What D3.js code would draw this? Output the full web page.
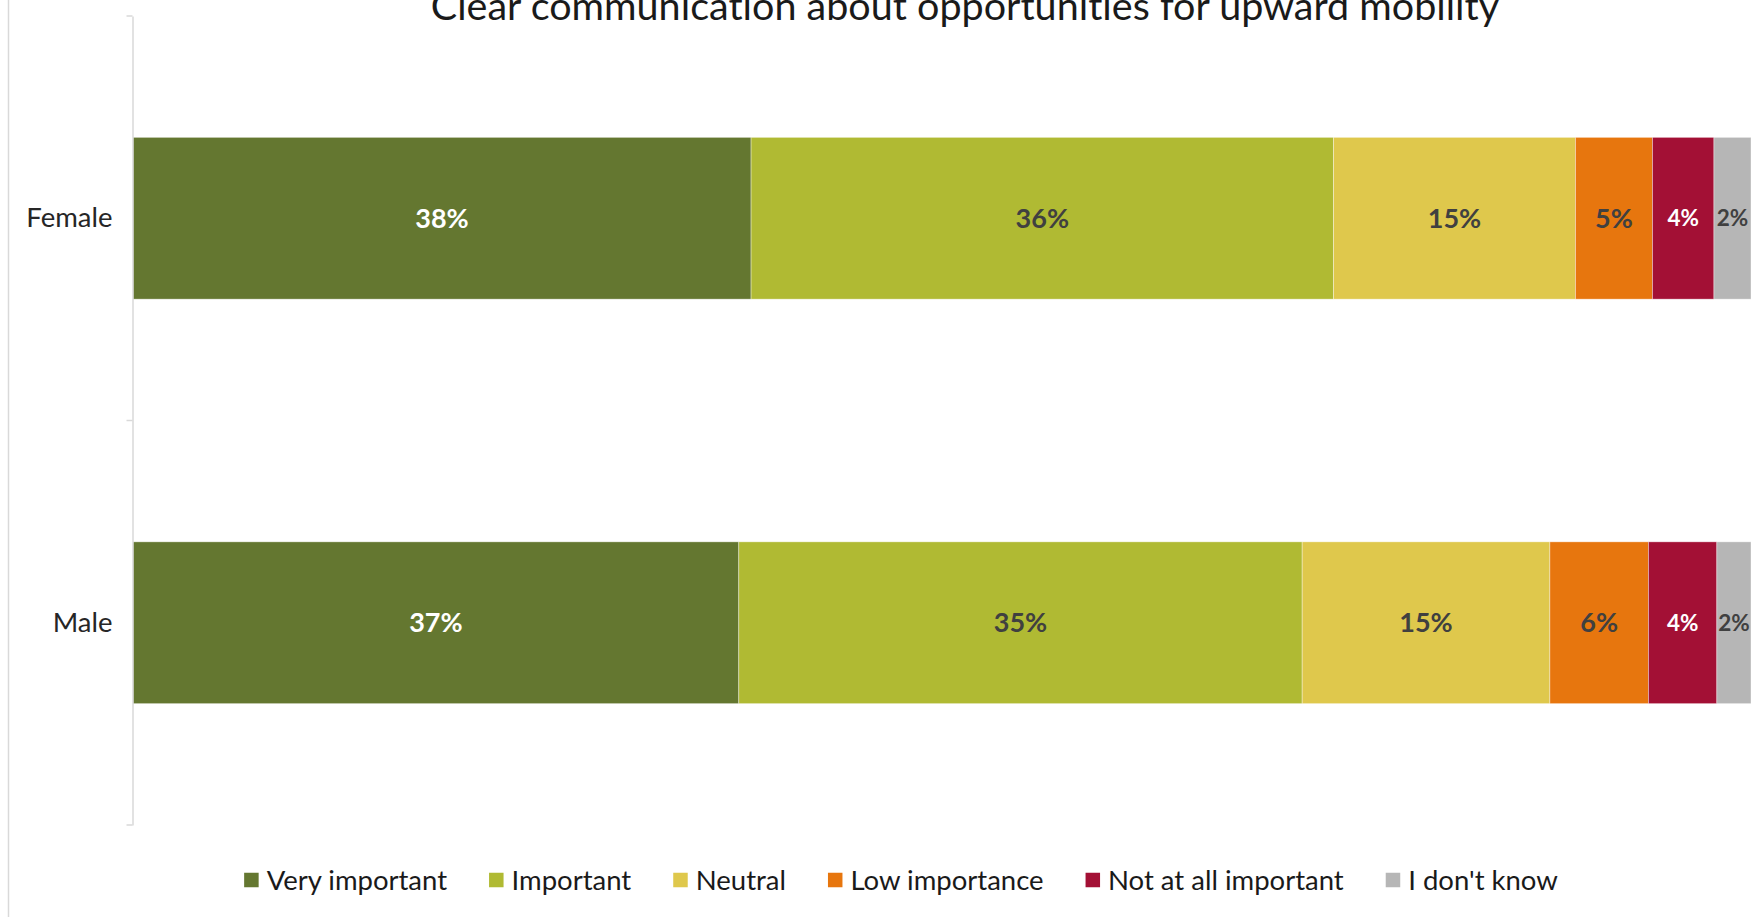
<!DOCTYPE html>
<html><head><meta charset="utf-8">
<script src="https://cdn.jsdelivr.net/npm/d3@7"></script>
<style>html,body{margin:0;padding:0;background:#fff;overflow:hidden} text{font-variant-ligatures:none;font-feature-settings:"liga" 0}</style>
</head><body>
<svg id="chart" width="1763" height="917"></svg>
<script>
const title = "Clear communication about opportunities for upward mobility";
const categories = ["Female", "Male"];
const seriesNames = ["Very important", "Important", "Neutral", "Low importance", "Not at all important", "I don't know"];
const seriesColors = ["#647730", "#B0BA33", "#DFC84C", "#E7760E", "#A31035", "#B6B6B6"];
const labelColors = ["#ffffff", "#404040", "#404040", "#404040", "#ffffff", "#404040"];
const femaleValues = [38.2, 36.0, 14.95, 4.76, 3.80, 2.29];
const maleValues = [37.44, 34.82, 15.31, 6.09, 4.23, 2.11];
const femaleLabels = ["38%", "36%", "15%", "5%", "4%", "2%"];
const maleLabels = ["37%", "35%", "15%", "6%", "4%", "2%"];

const values = [femaleValues, maleValues];
const labels = [femaleLabels, maleLabels];
const svg = d3.select("#chart");
const FONT = "Lato, 'Open Sans', sans-serif";

const x = d3.scaleLinear().domain([0, 100]).range([133, 1751]);
const y = d3.scaleBand().domain(categories).range([16, 825]).paddingInner(0.6).paddingOuter(0.3);

// outer border line
svg.append("line").attr("x1", 8.5).attr("x2", 8.5).attr("y1", 0).attr("y2", 917)
  .attr("stroke", "#d9d9d9").attr("stroke-width", 1.5);

// title
svg.append("text").attr("x", 965).attr("y", 20).attr("text-anchor", "middle")
  .attr("font-family", FONT).attr("font-size", 39.5).attr("fill", "#1a1a1a").text(title);

// stacked data
const rows = categories.map((c, i) => {
  let acc = 0;
  return values[i].map((v, j) => {
    const d = {cat: c, j, x0: acc, x1: acc + v, label: labels[i][j]};
    acc += v;
    return d;
  });
});

const g = svg.append("g");
rows.forEach(row => {
  g.selectAll(null).data(row).enter().append("rect")
    .attr("x", d => x(d.x0)).attr("width", d => x(d.x1) - x(d.x0))
    .attr("y", d => y(d.cat)).attr("height", y.bandwidth())
    .attr("fill", d => seriesColors[d.j])
    .attr("stroke", "#ffffff").attr("stroke-opacity", 0.5).attr("stroke-width", 0.75);
  g.selectAll(null).data(row).enter().append("text")
    .attr("x", d => (x(d.x0) + x(d.x1)) / 2)
    .attr("y", d => y(d.cat) + y.bandwidth() / 2)
    .attr("dy", "0.35em").attr("text-anchor", "middle")
    .attr("font-family", FONT).attr("font-weight", "bold")
    .attr("font-size", d => d.j >= 4 ? 22.5 : 27)
    .attr("fill", d => labelColors[d.j]).text(d => d.label);
});

// y axis
const axis = d3.axisLeft(y).tickSize(0).tickPadding(20);
const ax = svg.append("g").attr("transform", "translate(132.5,0)").call(axis);
ax.select(".domain").attr("stroke", "#d9d9d9").attr("stroke-width", 1.5);
ax.selectAll("text").attr("font-family", FONT).attr("font-size", 27.5).attr("fill", "#262626");
// category boundary ticks
const bounds = [16, ...categories.slice(1).map(c => y(c) - y.step() * y.paddingInner() / 2), 825];
ax.selectAll(".btick").data(bounds).enter().append("line")
  .attr("x1", -6).attr("x2", 0).attr("y1", d => d).attr("y2", d => d)
  .attr("stroke", "#d9d9d9").attr("stroke-width", 1.5);

// legend
const leg = svg.append("g");
const items = leg.selectAll("g").data(seriesNames).enter().append("g");
items.append("rect").attr("width", 14.5).attr("height", 14.5).attr("y", -7.25)
  .attr("fill", (d, i) => seriesColors[i]);
items.append("text").attr("x", 22.5).attr("dy", "0.35em")
  .attr("font-family", FONT).attr("font-size", 27.5).attr("fill", "#1a1a1a").text(d => d);
let widths = [];
items.each(function() { widths.push(22.5 + d3.select(this).select("text").node().getComputedTextLength()); });
const gap = 42;
const total = d3.sum(widths) + gap * (widths.length - 1);
let cx = 901 - total / 2;
items.attr("transform", (d, i) => {
  const t = `translate(${cx},880)`;
  cx += widths[i] + gap;
  return t;
});
</script>
</body></html>
